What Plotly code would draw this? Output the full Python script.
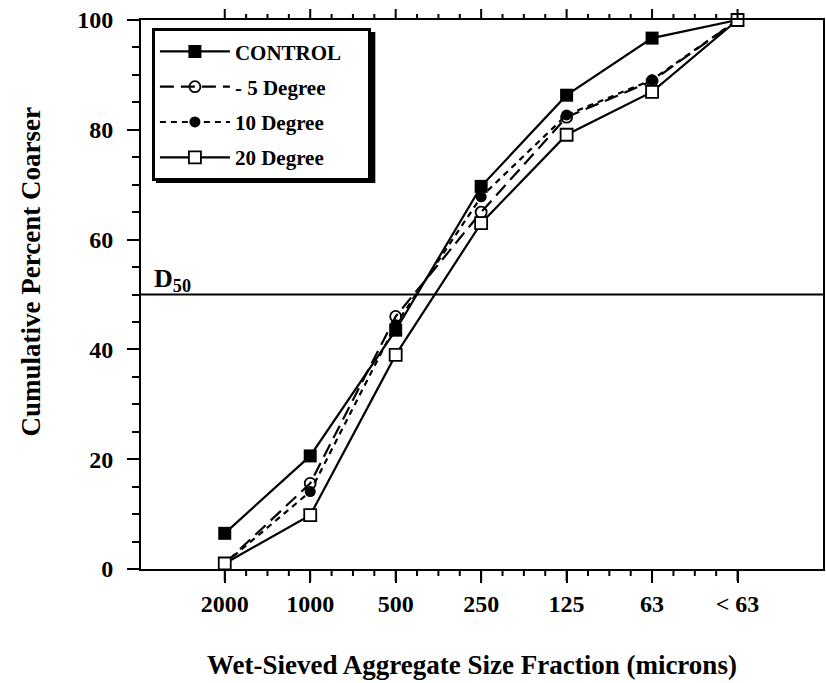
import plotly.graph_objects as go

categories = ["2000", "1000", "500", "250", "125", "63", "< 63"]
control = [6.5, 20.6, 43.5, 69.7, 86.3, 96.7, 100]
deg5 = [1.0, 15.6, 46.0, 65.0, 82.3, 88.9, 100]
deg10 = [1.0, 14.1, 44.5, 67.8, 82.7, 89.1, 100]
deg20 = [1.0, 9.8, 39.0, 63.0, 79.1, 86.9, 100]
d50_level = 50

FONT = "Liberation Serif, Times New Roman, serif"
xpos = list(range(len(categories)))
minor_vals = [k * 0.25 for k in range(0, 4 * (len(categories) - 1) + 1) if k % 4 != 0]
xrange = [-0.98, 7.0]

PLOT_H = 683 - 20 - 114  # plot area height in px, for paper-unit tick lengths

fig = go.Figure()

series = [
    ("CONTROL\u00a0\u00a0\u00a0\u00a0", control, "solid", dict(symbol="square", size=13, color="black")),
    ("- 5 Degree", deg5, "14px,7px", dict(symbol="circle-open", size=11, color="black", line=dict(width=1.8, color="black"))),
    ("10 Degree", deg10, "6px,5px", dict(symbol="circle", size=11, color="black")),
    ("20 Degree", deg20, "solid", dict(symbol="square", size=12, color="white", line=dict(width=1.8, color="black"))),
]
for i, (name, vals, dash, marker) in enumerate(series):
    fig.add_trace(go.Scatter(
        x=xpos, y=vals, name=name, mode="lines+markers",
        line=dict(color="black", width=2.2, dash=dash),
        marker=marker, cliponaxis=False, legendgroup=f"g{i}",
    ))

axis_font = dict(family=FONT, size=24, color="black", weight="bold")

fig.update_layout(
    width=826, height=683,
    margin=dict(l=141, r=1, t=20, b=114),
    paper_bgcolor="white", plot_bgcolor="white",
    showlegend=True,
    legend=dict(
        x=0.016, y=0.985, xanchor="left", yanchor="top",
        bgcolor="white", bordercolor="black", borderwidth=3,
        font=dict(family=FONT, size=21, color="black", weight="bold"),
        itemwidth=70, traceorder="grouped", tracegroupgap=5,
    ),
    xaxis=dict(
        range=xrange, tickmode="array", tickvals=xpos, ticktext=categories,
        showline=True, linecolor="black", linewidth=2, mirror=True,
        ticks="outside", ticklen=12, tickwidth=2, tickcolor="black",
        showgrid=False, zeroline=False,
        tickfont=axis_font,
    ),
    yaxis=dict(
        range=[0, 100], tickmode="array", tickvals=[0, 20, 40, 60, 80, 100],
        showline=True, linecolor="black", linewidth=2, mirror=True,
        ticks="outside", ticklen=12, tickwidth=2, tickcolor="black",
        minor=dict(dtick=5, ticks="outside", ticklen=7, tickwidth=2, tickcolor="black", showgrid=False),
        showgrid=False, zeroline=False,
        tickfont=axis_font, ticklabelstandoff=9,
    ),
    annotations=[
        dict(text="Cumulative Percent Coarser", textangle=-90, xref="paper", yref="paper",
             x=-0.162, y=0.541, showarrow=False, xanchor="center", yanchor="middle",
             font=dict(family=FONT, size=27, color="black", weight="bold")),
        dict(text="Wet-Sieved Aggregate Size Fraction (microns)", xref="paper", yref="paper",
             x=0.486, y=-0.175, showarrow=False, xanchor="center", yanchor="middle",
             font=dict(family=FONT, size=27, color="black", weight="bold")),
        dict(text="D<sub>50</sub>", xref="paper", yref="y", x=0.016, y=d50_level,
             showarrow=False, xanchor="left", yanchor="bottom", yshift=-3,
             font=dict(family=FONT, size=26, color="black", weight="bold")),
    ],
)

# legend drop shadow
fig.add_shape(type="rect", xref="paper", yref="paper", layer="below",
              x0=(156 - 141) / 684, x1=(376 - 141) / 684,
              y0=1 - (183 - 20) / 549, y1=1 - (32 - 20) / 549,
              fillcolor="black", line=dict(width=0))

# x-axis tick marks on the bottom (pointing down) and top (pointing up)
tick_line = dict(color="black", width=2)
for v, length in [(p, 12) for p in xpos] + [(m, 7) for m in minor_vals]:
    fig.add_shape(type="line", xref="x", yref="paper", x0=v, x1=v,
                  y0=0, y1=-length / PLOT_H, line=tick_line)
    fig.add_shape(type="line", xref="x", yref="paper", x0=v, x1=v,
                  y0=1, y1=1 + (length - 1) / PLOT_H, line=tick_line)

fig.add_hline(y=d50_level, line=dict(color="black", width=2))

fig.write_html("out.html")
